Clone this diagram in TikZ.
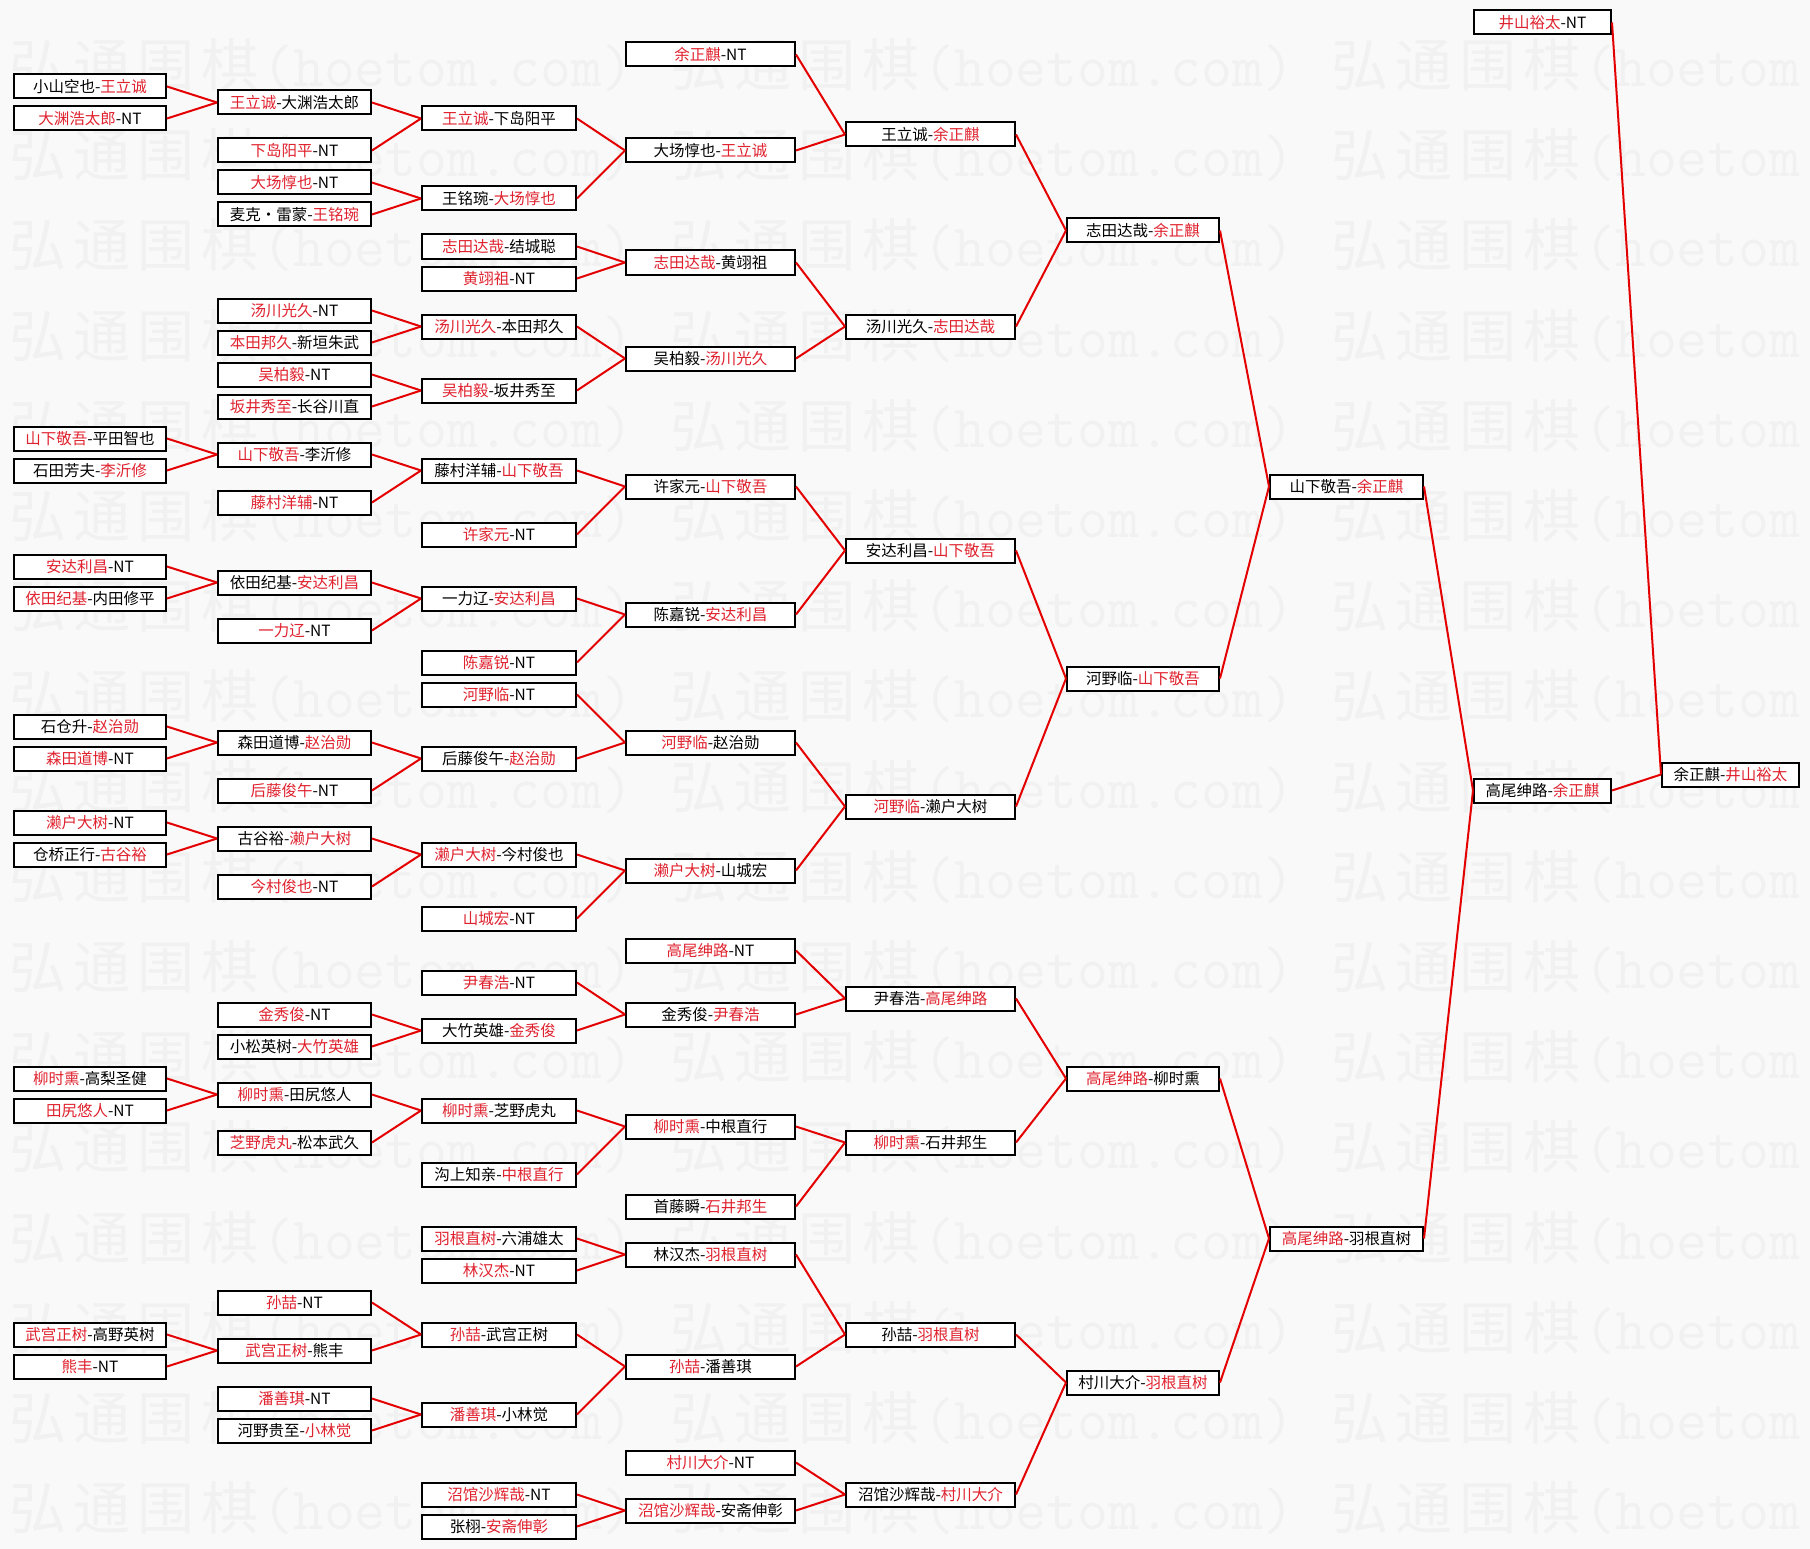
\documentclass[tikz,border=0pt]{standalone}
\usepackage{fontspec}
\setmainfont{Noto Sans CJK SC}
\definecolor{win}{RGB}{224,34,46}
\definecolor{linered}{RGB}{228,0,0}
\definecolor{bgc}{RGB}{249,249,249}
\definecolor{wmgray}{RGB}{241,241,241}
\newcommand\wn[1]{\textcolor{win}{#1}}
\newcommand\wmchar[1]{\makebox[64pt]{#1}}
\newcommand\wmtext{\fontsize{57}{57}\selectfont\wmchar{弘}\wmchar{通}\wmchar{围}\wmchar{棋}{\ttfamily\fontsize{60}{60}\selectfont (hoetom.com)}}
\newcommand\colx[1]{\ifcase#1\or 90\or 294.5\or 499\or 710.5\or 930.5\or 1143\or 1346.5\or 1542.5\or 1730.5\fi}
\newcommand\colw[1]{\ifcase#1\or 152\or 153\or 154\or 169\or 169\or 152\or 153\or 137\or 137\fi}
\newcommand\bx[4]{\node[box, minimum width=\colw{#1}pt] (#2) at ({\colx{#1}}, {86.5+16*(#3)}) {#4};}
\newcommand\jn[3]{\draw[conn] (#1.east) -- (#3.west); \draw[conn] (#2.east) -- (#3.west);}
\tikzset{
  box/.style={draw=black, line width=2pt, fill=white, rectangle, inner sep=0pt,
    minimum height=24pt, text height=13.5pt, text depth=2pt, align=center,
    font=\fontsize{15.5}{15.5}\selectfont},
  conn/.style={draw=linered, line width=2pt},
  wm/.style={anchor=west, inner sep=0pt, text=wmgray}
}
\begin{document}
\begin{tikzpicture}[x=1pt,y=-1pt]
\useasboundingbox (0,0) rectangle (1810,1549);
\fill[bgc] (0,0) rectangle (1810,1549);
\foreach \r in {0,...,16} {
  \foreach \g in {0,1,2} {
    \node[wm] at ({6+661*\g},{65+90.2*\r}) {\wmtext};
  }
}
% column 1
\bx{1}{a0}{0}{小山空也-\wn{王立诚}}
\bx{1}{a2}{2}{\wn{大渊浩太郎}-NT}
\bx{1}{a22}{22}{\wn{山下敬吾}-平田智也}
\bx{1}{a24}{24}{石田芳夫-\wn{李沂修}}
\bx{1}{a30}{30}{\wn{安达利昌}-NT}
\bx{1}{a32}{32}{\wn{依田纪基}-内田修平}
\bx{1}{a40}{40}{石仓升-\wn{赵治勋}}
\bx{1}{a42}{42}{\wn{森田道博}-NT}
\bx{1}{a46}{46}{\wn{濑户大树}-NT}
\bx{1}{a48}{48}{仓桥正行-\wn{古谷裕}}
\bx{1}{a62}{62}{\wn{柳时熏}-高梨圣健}
\bx{1}{a64}{64}{\wn{田尻悠人}-NT}
\bx{1}{a78}{78}{\wn{武宫正树}-高野英树}
\bx{1}{a80}{80}{\wn{熊丰}-NT}
% column 2
\bx{2}{b1}{1}{\wn{王立诚}-大渊浩太郎}
\bx{2}{b4}{4}{\wn{下岛阳平}-NT}
\bx{2}{b6}{6}{\wn{大场惇也}-NT}
\bx{2}{b8}{8}{麦克・雷蒙-\wn{王铭琬}}
\bx{2}{b14}{14}{\wn{汤川光久}-NT}
\bx{2}{b16}{16}{\wn{本田邦久}-新垣朱武}
\bx{2}{b18}{18}{\wn{吴柏毅}-NT}
\bx{2}{b20}{20}{\wn{坂井秀至}-长谷川直}
\bx{2}{b23}{23}{\wn{山下敬吾}-李沂修}
\bx{2}{b26}{26}{\wn{藤村洋辅}-NT}
\bx{2}{b31}{31}{依田纪基-\wn{安达利昌}}
\bx{2}{b34}{34}{\wn{一力辽}-NT}
\bx{2}{b41}{41}{森田道博-\wn{赵治勋}}
\bx{2}{b44}{44}{\wn{后藤俊午}-NT}
\bx{2}{b47}{47}{古谷裕-\wn{濑户大树}}
\bx{2}{b50}{50}{\wn{今村俊也}-NT}
\bx{2}{b58}{58}{\wn{金秀俊}-NT}
\bx{2}{b60}{60}{小松英树-\wn{大竹英雄}}
\bx{2}{b63}{63}{\wn{柳时熏}-田尻悠人}
\bx{2}{b66}{66}{\wn{芝野虎丸}-松本武久}
\bx{2}{b76}{76}{\wn{孙喆}-NT}
\bx{2}{b79}{79}{\wn{武宫正树}-熊丰}
\bx{2}{b82}{82}{\wn{潘善琪}-NT}
\bx{2}{b84}{84}{河野贵至-\wn{小林觉}}
% column 3
\bx{3}{c2}{2}{\wn{王立诚}-下岛阳平}
\bx{3}{c7}{7}{王铭琬-\wn{大场惇也}}
\bx{3}{c10}{10}{\wn{志田达哉}-结城聪}
\bx{3}{c12}{12}{\wn{黄翊祖}-NT}
\bx{3}{c15}{15}{\wn{汤川光久}-本田邦久}
\bx{3}{c19}{19}{\wn{吴柏毅}-坂井秀至}
\bx{3}{c24}{24}{藤村洋辅-\wn{山下敬吾}}
\bx{3}{c28}{28}{\wn{许家元}-NT}
\bx{3}{c32}{32}{一力辽-\wn{安达利昌}}
\bx{3}{c36}{36}{\wn{陈嘉锐}-NT}
\bx{3}{c38}{38}{\wn{河野临}-NT}
\bx{3}{c42}{42}{后藤俊午-\wn{赵治勋}}
\bx{3}{c48}{48}{\wn{濑户大树}-今村俊也}
\bx{3}{c52}{52}{\wn{山城宏}-NT}
\bx{3}{c56}{56}{\wn{尹春浩}-NT}
\bx{3}{c59}{59}{大竹英雄-\wn{金秀俊}}
\bx{3}{c64}{64}{\wn{柳时熏}-芝野虎丸}
\bx{3}{c68}{68}{沟上知亲-\wn{中根直行}}
\bx{3}{c72}{72}{\wn{羽根直树}-六浦雄太}
\bx{3}{c74}{74}{\wn{林汉杰}-NT}
\bx{3}{c78}{78}{\wn{孙喆}-武宫正树}
\bx{3}{c83}{83}{\wn{潘善琪}-小林觉}
\bx{3}{c88}{88}{\wn{沼馆沙辉哉}-NT}
\bx{3}{c90}{90}{张栩-\wn{安斋伸彰}}
% column 4
\bx{4}{dm2}{-2}{\wn{余正麒}-NT}
\bx{4}{d4}{4}{大场惇也-\wn{王立诚}}
\bx{4}{d11}{11}{\wn{志田达哉}-黄翊祖}
\bx{4}{d17}{17}{吴柏毅-\wn{汤川光久}}
\bx{4}{d25}{25}{许家元-\wn{山下敬吾}}
\bx{4}{d33}{33}{陈嘉锐-\wn{安达利昌}}
\bx{4}{d41}{41}{\wn{河野临}-赵治勋}
\bx{4}{d49}{49}{\wn{濑户大树}-山城宏}
\bx{4}{d54}{54}{\wn{高尾绅路}-NT}
\bx{4}{d58}{58}{金秀俊-\wn{尹春浩}}
\bx{4}{d65}{65}{\wn{柳时熏}-中根直行}
\bx{4}{d70}{70}{首藤瞬-\wn{石井邦生}}
\bx{4}{d73}{73}{林汉杰-\wn{羽根直树}}
\bx{4}{d80}{80}{\wn{孙喆}-潘善琪}
\bx{4}{d86}{86}{\wn{村川大介}-NT}
\bx{4}{d89}{89}{\wn{沼馆沙辉哉}-安斋伸彰}
% column 5
\bx{5}{e3}{3}{王立诚-\wn{余正麒}}
\bx{5}{e15}{15}{汤川光久-\wn{志田达哉}}
\bx{5}{e29}{29}{安达利昌-\wn{山下敬吾}}
\bx{5}{e45}{45}{\wn{河野临}-濑户大树}
\bx{5}{e57}{57}{尹春浩-\wn{高尾绅路}}
\bx{5}{e66}{66}{\wn{柳时熏}-石井邦生}
\bx{5}{e78}{78}{孙喆-\wn{羽根直树}}
\bx{5}{e88}{88}{沼馆沙辉哉-\wn{村川大介}}
% column 6
\bx{6}{f9}{9}{志田达哉-\wn{余正麒}}
\bx{6}{f37}{37}{河野临-\wn{山下敬吾}}
\bx{6}{f62}{62}{\wn{高尾绅路}-柳时熏}
\bx{6}{f81}{81}{村川大介-\wn{羽根直树}}
% column 7
\bx{7}{g25}{25}{山下敬吾-\wn{余正麒}}
\bx{7}{g72}{72}{\wn{高尾绅路}-羽根直树}
% column 8
\bx{8}{hm4}{-4}{\wn{井山裕太}-NT}
\bx{8}{h44}{44}{高尾绅路-\wn{余正麒}}
% column 9
\bx{9}{i43}{43}{余正麒-\wn{井山裕太}}
% connectors
\jn{a0}{a2}{b1}
\jn{b1}{b4}{c2}
\jn{b6}{b8}{c7}
\jn{c2}{c7}{d4}
\jn{dm2}{d4}{e3}
\jn{c10}{c12}{d11}
\jn{b14}{b16}{c15}
\jn{b18}{b20}{c19}
\jn{c15}{c19}{d17}
\jn{d11}{d17}{e15}
\jn{e3}{e15}{f9}
\jn{a22}{a24}{b23}
\jn{b23}{b26}{c24}
\jn{c24}{c28}{d25}
\jn{a30}{a32}{b31}
\jn{b31}{b34}{c32}
\jn{c32}{c36}{d33}
\jn{d25}{d33}{e29}
\jn{a40}{a42}{b41}
\jn{b41}{b44}{c42}
\jn{c38}{c42}{d41}
\jn{a46}{a48}{b47}
\jn{b47}{b50}{c48}
\jn{c48}{c52}{d49}
\jn{d41}{d49}{e45}
\jn{e29}{e45}{f37}
\jn{f9}{f37}{g25}
\jn{b58}{b60}{c59}
\jn{c56}{c59}{d58}
\jn{d54}{d58}{e57}
\jn{a62}{a64}{b63}
\jn{b63}{b66}{c64}
\jn{c64}{c68}{d65}
\jn{d65}{d70}{e66}
\jn{e57}{e66}{f62}
\jn{c72}{c74}{d73}
\jn{a78}{a80}{b79}
\jn{b76}{b79}{c78}
\jn{b82}{b84}{c83}
\jn{c78}{c83}{d80}
\jn{d73}{d80}{e78}
\jn{c88}{c90}{d89}
\jn{d86}{d89}{e88}
\jn{e78}{e88}{f81}
\jn{f62}{f81}{g72}
\jn{g25}{g72}{h44}
\jn{hm4}{h44}{i43}
\end{tikzpicture}
\end{document}
